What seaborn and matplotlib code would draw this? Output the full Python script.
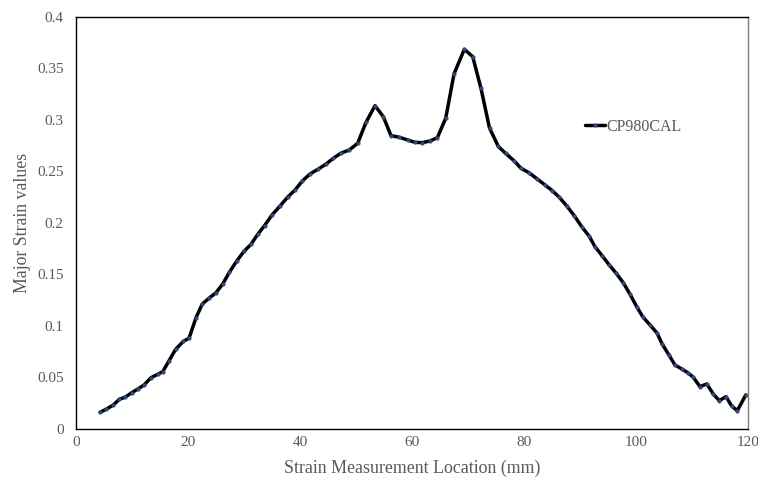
import matplotlib
matplotlib.use("Agg")
import matplotlib.pyplot as plt
from matplotlib.ticker import FixedLocator, FixedFormatter
import seaborn as sns
import pandas as pd

# Measurement positions along the section line (mm)
location_mm = [
    4.29, 5.36, 6.66, 7.73, 8.75, 9.95, 11.13, 12.14, 13.39, 14.59,
    15.48, 16.61, 17.80, 19.16, 20.18, 21.43, 22.55, 23.80, 25.00, 26.20,
    27.38, 28.70, 30.00, 31.25, 32.45, 33.66, 35.00, 36.43, 37.86, 39.11,
    40.41, 41.79, 43.27, 44.59, 45.95, 47.27, 48.80, 50.30, 51.79, 53.39,
    54.88, 56.25, 57.73, 59.23, 60.54, 61.84, 63.21, 64.52, 66.02, 67.50,
    69.34, 70.84, 72.32, 73.84, 75.41, 76.73, 78.21, 79.46, 80.89, 82.38,
    83.75, 85.05, 86.30, 87.63, 88.98, 90.30, 91.61, 92.68, 93.98, 95.23,
    96.38, 97.73, 98.93, 100.13, 101.20, 102.50, 103.75, 104.70, 105.89, 106.96,
    108.16, 109.23, 110.23, 111.43, 112.63, 113.80, 114.88, 116.07, 117.09, 118.09,
    119.60,
]

# Major strain measured at each position
major_strain = [
    0.0162, 0.0191, 0.0233, 0.0288, 0.0308, 0.0352, 0.0391, 0.0427, 0.0498, 0.0531,
    0.0556, 0.0663, 0.0774, 0.0851, 0.0881, 0.1081, 0.1214, 0.1272, 0.1323, 0.1408,
    0.1521, 0.1631, 0.1725, 0.1793, 0.1890, 0.1974, 0.2078, 0.2165, 0.2255, 0.2320,
    0.2408, 0.2476, 0.2524, 0.2570, 0.2628, 0.2677, 0.2709, 0.2774, 0.2978, 0.3139,
    0.3032, 0.2848, 0.2832, 0.2806, 0.2783, 0.2780, 0.2796, 0.2828, 0.3017, 0.3447,
    0.3686, 0.3615, 0.3306, 0.2922, 0.2743, 0.2675, 0.2605, 0.2531, 0.2488, 0.2427,
    0.2369, 0.2314, 0.2250, 0.2165, 0.2071, 0.1964, 0.1874, 0.1770, 0.1680, 0.1592,
    0.1517, 0.1420, 0.1308, 0.1187, 0.1090, 0.1010, 0.0932, 0.0822, 0.0718, 0.0621,
    0.0583, 0.0547, 0.0502, 0.0411, 0.0437, 0.0340, 0.0275, 0.0314, 0.0223, 0.0178,
    0.0330,
]

series_name = "CP980CAL"
x_ticks = [0, 20, 40, 60, 80, 100, 120]
y_ticks = [0, 0.05, 0.1, 0.15, 0.2, 0.25, 0.3, 0.35, 0.4]
y_tick_labels = ["0", "0.05", "0.1", "0.15", "0.2", "0.25", "0.3", "0.35", "0.4"]

df = pd.DataFrame({"loc": location_mm, "strain": major_strain, "series": series_name})

sns.set_theme(style="white")
plt.rcParams["font.family"] = ["Liberation Serif", "DejaVu Serif"]

text_grey = "#595959"

fig = plt.figure(figsize=(7.58, 4.80), dpi=100)
ax = fig.add_axes([0.1003, 0.1063, 0.8865, 0.8583])

sns.lineplot(
    data=df, x="loc", y="strain", hue="series", palette=["black"],
    ax=ax, linewidth=2.5, marker="o", markersize=2.6,
    markerfacecolor="#2f4b7c", markeredgecolor="#2f4b7c", markeredgewidth=0.3,
    sort=False, legend=True,
)
for line in ax.get_lines():
    line.set_solid_joinstyle("round")
    line.set_solid_capstyle("round")

ax.set_xlim(0, 120)
ax.set_ylim(0, 0.4)
ax.xaxis.set_major_locator(FixedLocator(x_ticks))
ax.yaxis.set_major_locator(FixedLocator(y_ticks))
ax.yaxis.set_major_formatter(FixedFormatter(y_tick_labels))
ax.tick_params(axis="both", length=0, labelsize=11, labelcolor=text_grey)
ax.tick_params(axis="y", pad=9)
ax.tick_params(axis="x", pad=5)

ax.set_xlabel("Strain Measurement Location (mm)", fontsize=12.9, color=text_grey, labelpad=8)
ax.set_ylabel("Major Strain values", fontsize=12.8, color=text_grey, labelpad=4)

for side in ("left", "bottom", "top"):
    ax.spines[side].set_color("black")
    ax.spines[side].set_linewidth(1.0)
ax.spines["right"].set_color("#7f7f7f")
ax.spines["right"].set_linewidth(1.0)

leg = ax.legend(
    loc="center left", bbox_to_anchor=(0.745, 0.733), frameon=False,
    fontsize=11.5, handlelength=1.3, handletextpad=0.05, borderpad=0,
)
for t in leg.get_texts():
    t.set_color(text_grey)

fig.savefig("out.png", dpi=100)
